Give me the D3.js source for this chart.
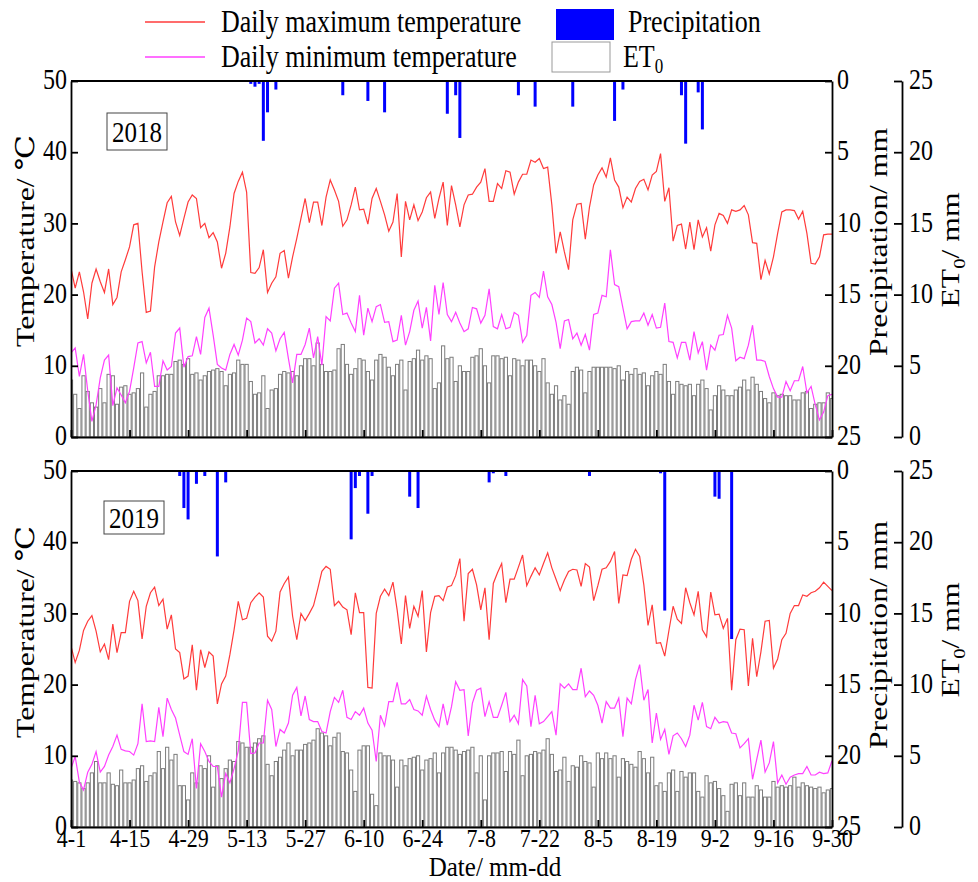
<!DOCTYPE html>
<html><head><meta charset="utf-8">
<script src="https://cdn.jsdelivr.net/npm/d3@7"></script>
<style>body{margin:0;background:#fff}</style>
</head><body>
<svg id="c" width="978" height="882"></svg>
<script>
// ---------- DATA ----------
const tickDays = [0,14,28,42,56,70,84,98,112,126,140,154,168,182];
const tickLabels = ["4-1","4-15","4-29","5-13","5-27","6-10","6-24","7-8","7-22","8-5","8-19","9-2","9-16","9-30"];

const tmax2018 = [23.7,20.9,23.2,20.4,16.6,21.6,23.6,21.8,20.3,23.6, 18.6,19.6,23.2,24.9,26.7,29.8,30.0,23.2,17.5,17.7,
 23.9,27.4,30.2,32.9,33.8,30.2,28.3,30.7,33.0,34.0, 33.5,29.4,30.0,28.0,28.7,27.4,23.7,25.8,29.5,34.2,
 35.9,37.2,34.4,23.1,23.0,23.8,26.3,20.3,21.6,22.5, 25.8,26.2,22.3,25.3,27.9,30.7,33.5,30.1,33.0,33.0,
 29.7,33.7,36.1,34.7,33.1,29.6,30.5,32.6,35.1,31.9, 32.0,29.9,33.5,34.9,33.1,31.2,28.9,30.2,34.2,25.3,
 33.1,30.5,32.6,30.4,31.6,33.6,34.4,30.7,33.5,35.8, 29.7,35.3,32.6,29.5,32.6,34.0,34.1,35.1,35.8,37.7,
 33.1,33.1,35.6,34.9,37.4,37.2,34.1,35.8,36.9,36.9, 38.9,38.6,39.1,37.7,37.9,32.6,25.8,28.8,26.0,23.5,
 30.5,32.7,32.8,27.8,32.3,35.4,36.8,37.8,36.5,39.2, 36.1,35.1,32.2,33.7,33.0,34.9,35.9,36.2,34.7,36.8,
 37.3,39.8,33.1,35.0,27.5,29.7,29.9,26.4,30.2,26.3, 30.5,28.1,29.4,26.1,29.8,31.4,31.1,30.0,31.9,31.7,
 31.9,32.5,31.2,27.3,27.2,22.1,24.8,22.9,25.3,28.6, 31.6,31.9,31.9,31.8,30.6,31.7,28.6,24.4,24.3,25.3,
 28.4,28.5,28.5];
const tmin2018 = [11.8,12.5,8.5,11.6,6.5,2.2,4.5,8.3,10.8,11.5, 4.4,6.9,5.9,4.8,6.4,9.7,13.2,13.4,10.4,11.9,
 7.1,7.1,10.7,9.4,9.9,14.6,15.3,9.8,11.3,11.4, 14.1,11.6,16.8,18.1,14.3,10.2,9.7,9.4,11.6,13.0,
 11.5,13.6,16.7,16.2,13.2,13.8,12.9,15.2,14.6,12.1, 13.8,14.7,11.0,7.6,11.6,11.6,13.0,15.3,11.1,14.1,
 10.1,16.9,16.3,20.9,21.6,17.2,17.4,16.0,14.8,19.9, 14.3,18.1,16.2,18.3,18.6,16.1,16.2,13.4,13.6,17.1,
 12.9,14.8,17.8,19.1,15.3,18.2,13.5,21.3,17.2,21.7, 17.2,16.2,17.5,16.0,14.8,15.2,18.2,18.0,16.0,17.1,
 20.8,15.5,15.2,17.2,15.2,15.4,17.5,17.1,13.3,14.3, 19.9,20.3,19.6,23.3,19.7,18.6,16.1,12.4,16.3,16.5,
 13.8,14.6,12.9,14.4,12.2,17.2,17.4,19.9,19.7,26.3, 21.4,21.1,18.1,15.2,16.2,16.3,16.3,17.4,15.7,17.2,
 15.3,15.4,18.8,13.4,13.3,11.1,13.3,13.3,10.8,14.8, 11.8,13.4,9.4,12.9,12.2,14.3,14.4,17.1,15.3,10.7,
 11.2,11.0,12.9,15.7,10.8,10.8,10.6,8.5,6.8,5.6, 5.6,7.8,6.5,7.9,7.9,9.9,6.2,7.1,4.5,2.4,
 3.5,5.8,6.0];
const et02018 = [4.0,3.0,2.0,4.3,3.2,2.4,2.1,3.4,2.4,4.4, 4.3,2.3,3.5,3.6,3.0,3.1,3.4,4.5,2.1,3.0,
 3.2,4.3,4.3,4.4,4.4,5.3,5.4,5.1,5.5,4.4, 4.5,4.0,4.3,4.6,4.7,4.8,4.6,3.6,4.4,4.5,
 5.4,5.1,5.1,3.9,3.0,3.1,4.3,2.0,3.3,3.4, 4.4,4.6,4.5,4.6,4.3,5.0,5.5,
 5.5,5.0,6.6,5.1,4.6,4.6,4.7,6.2,6.5,5.1, 4.4,4.8,5.5,5.4,4.6,4.0,5.4,5.8,5.6,4.9,
 4.3,5.1,5.4,3.3,5.3,5.5,6.1,5.4,5.7,5.5, 3.4,3.8,6.4,5.5,5.6,3.9,5.0,4.6,4.6,5.6,
 5.7,6.2,5.0,3.8,5.7,5.7,5.5,5.6,4.3,5.5, 5.4,5.0,5.4,5.4,5.0,4.6,5.5,3.8,3.0,3.6,
 2.6,2.9,2.3,
 4.6,4.9,4.7,3.1,4.6,4.9,4.9,4.9,4.9,4.9, 4.8,5.0,4.0,4.6,4.4,4.8,4.4,4.5,3.6,4.3,
 4.6,4.4,5.1,3.9,3.0,3.9,3.7,3.6,3.7,2.9, 3.7,4.0,3.4,1.9,2.9,3.6,3.3,2.9,2.9,3.3,
 3.5,4.0,3.3,4.2,3.7,3.2,2.7,2.4,3.1,2.9, 3.0,2.9,2.9,2.6,2.6,3.1,3.2,2.0,2.3,2.4,
 2.4,3.1,2.7];
const rainDay2018 = [43,44,45,46,47,49,65,71,75,90,92,93,107,111,120,130,132,146,147,150,151];
const rain2018 = [0.2,0.4,0.2,4.2,2.2,0.6,1.0,1.4,2.2,2.3,1.0,4.0,1.0,1.8,1.8,2.8,0.6,1.0,4.4,0.8,3.4];

const tmax2019 = [25.4,23.1,24.8,27.6,28.9,29.7,27.5,24.6,25.7,23.5, 28.5,24.5,27.3,27.3,31.7,33.1,31.8,26.4,31.0,32.9,
 33.7,31.1,32.0,27.8,29.8,25.0,24.5,20.8,21.2,25.6, 19.2,24.9,22.4,24.6,24.0,17.3,20.1,21.2,24.2,27.7,
 31.7,29.1,29.3,31.5,32.3,32.9,32.3,26.8,26.1,27.5, 33.0,34.2,35.1,29.6,26.3,30.0,29.0,30.0,31.1,33.4,
 35.9,36.6,36.2,31.1,31.7,30.9,30.5,27.0,32.9,30.1, 30.1,19.6,19.5,30.0,32.4,33.4,32.5,34.4,30.5,25.7,
 32.5,27.9,31.0,29.6,33.2,24.6,30.1,32.4,32.5,31.8, 33.7,33.9,35.3,37.7,28.9,35.6,36.2,34.0,30.5,33.6,
 26.3,34.2,35.7,37.0,31.5,34.8,34.8,36.5,38.2,33.9, 35.2,36.4,35.4,37.0,38.5,36.4,34.8,33.2,34.7,35.9,
 36.2,36.1,33.8,37.0,36.5,31.8,33.9,36.2,36.4,37.3, 38.7,31.4,35.4,35.3,37.6,39.0,38.0,34.0,28.3,31.2,
 25.8,25.9,24.0,27.6,31.0,29.2,28.6,33.6,31.5,29.8, 33.1,27.7,26.7,33.0,29.8,29.9,27.9,29.3,19.2,26.3,
 27.8,27.7,19.8,26.5,21.1,24.6,28.9,29.0,22.3,23.6, 26.3,27.2,30.0,31.1,31.1,32.6,32.4,32.9,33.1,33.6,
 34.4,33.8,33.2];
const tmin2019 = [8.2,9.9,6.3,5.2,7.7,8.8,10.6,7.7,8.5,10.1, 11.3,12.9,10.9,10.7,10.6,10.1,11.7,17.3,12.0,12.1,
 12.0,16.8,12.7,18.1,16.5,15.3,12.9,10.6,10.2,12.4, 5.4,11.7,10.6,9.2,8.5,8.5,4.2,7.5,6.2,8.2,
 10.7,17.5,17.5,10.3,10.4,11.8,11.8,17.8,16.5,11.3, 13.7,13.2,14.6,18.5,19.6,15.6,18.4,15.1,14.8,14.8,
 13.4,13.2,16.2,18.2,17.5,19.2,15.4,15.1,16.2,15.7, 16.7,14.6,13.6,9.2,15.7,14.2,17.6,17.6,20.3,17.3,
 17.3,17.9,16.5,16.3,15.7,18.4,16.5,15.0,14.1,17.3, 14.3,16.9,20.4,19.2,19.3,12.8,17.4,19.2,19.5,15.5,
 17.6,15.4,15.4,17.1,18.9,14.8,15.7,14.5,20.7,19.8, 14.1,18.5,14.5,14.8,15.5,16.2,12.9,20.1,19.5,20.1,
 19.3,19.3,22.3,18.3,19.1,18.5,17.1,14.6,17.6,16.7, 16.7,18.1,12.7,18.1,17.3,20.7,22.8,17.8,19.3,11.8,
 16.0,12.3,13.7,10.2,12.8,13.2,12.4,11.3,12.9,17.1, 15.0,17.5,14.1,13.8,15.4,14.6,14.8,14.7,13.2,13.1,
 11.1,11.7,12.4,6.7,9.5,12.2,7.7,9.0,12.0,6.2, 7.3,6.0,7.0,7.3,7.5,7.5,8.5,7.3,7.3,7.7,
 7.5,7.6,9.3];
const et02019 = [3.3,3.2,3.1,2.7,3.1,3.8,4.6,3.1,3.1,3.8, 3.0,2.9,4.0,3.1,3.1,3.3,4.1,4.3,3.2,3.6,
 3.8,5.3,4.1,5.6,4.7,5.1,2.9,2.9,1.9,3.8, 3.1,4.3,4.1,5.0,2.8,4.3,3.4,4.1,4.7,4.6,
 6.0,5.9,5.6,5.6,5.9,6.2,6.4,4.4,3.6,4.6, 4.9,5.4,5.9,5.0,5.4,5.4,5.8,
 5.9,6.1,6.9,6.6,6.4,5.7,6.3,6.6,5.3,5.2, 4.0,2.5,5.4,5.7,5.7,2.3,1.5,5.2,5.0,5.0,
 4.7,2.8,4.7,4.3,4.8,4.9,5.0,4.0,4.7,4.8, 5.2,3.8,5.2,5.6,5.6,5.4,5.1,5.3,5.4,5.6,
 3.8,5.0,1.9,5.0,5.2,5.2,5.3,3.9,5.3,5.1, 6.1,3.6,5.0,5.1,5.3,5.2,5.4,6.2,5.1,3.9,
 4.0,4.9,3.2,
 4.3,4.2,5.0,4.6,4.5,2.8,5.2,4.8,5.2,4.8, 5.0,3.5,4.8,4.6,4.4,4.2,5.3,4.8,3.8,4.9,
 2.9,3.1,2.5,3.8,4.0,2.5,3.9,3.5,3.8,3.8, 2.5,2.1,3.6,3.1,3.2,2.7,2.2,1.1,3.0,3.1,
 2.2,3.1,2.1,2.1,2.9,2.6,2.1,2.1,3.2,2.8, 2.9,2.8,2.9,3.5,2.8,3.1,2.9,2.8,2.7,2.8,
 2.4,2.6,2.7];
const rainDay2019 = [26,27,28,30,32,35,37,67,68,69,71,72,81,83,100,101,104,124,141,142,154,155,158];
const rain2019 = [0.35,2.6,3.4,0.9,0.35,6.0,0.8,4.8,1.2,0.35,3.0,0.35,1.8,2.6,0.8,0.16,0.35,0.35,0.16,9.8,1.8,1.95,11.8];

// ---------- DRAW ----------
const FONT = '"Liberation Serif","Times New Roman","DejaVu Serif","Noto Sans CJK SC",serif';
const RED = "#ff3b3b", MAG = "#ff40ff", BLUE = "#0000ff", GRAY = "#7c7c7c";
const SY = 1.2;   // the reference text is drawn slightly tall
const svg = d3.select("#c").style("font-family", FONT);
const x = d3.scaleLinear().domain([0,182]).range([71,832]);

const panels = [
 {year:"2018", top:81, bottom:437, tmax:tmax2018, tmin:tmin2018, et0:et02018, rd:rainDay2018, rv:rain2018, labels:false,
  box:[107,113,60,37], tc:[241,242,250]},
 {year:"2019", top:471, bottom:827, tmax:tmax2019, tmin:tmin2019, et0:et02019, rd:rainDay2019, rv:rain2019, labels:true,
  box:[104,501,60,33], tc:[632,635,640]}
];

function styleAxis(g, fs, sy, dy){
  g.attr("font-family", FONT).attr("font-size", fs);
  g.selectAll("path.domain").attr("stroke","#000").attr("stroke-width",1.8);
  g.selectAll(".tick line").attr("stroke","#000").attr("stroke-width",1.8);
  const t = g.selectAll(".tick text").attr("fill","#000").attr("transform", `scale(1,${sy})`);
  if (dy) t.attr("dy", dy);
}
function htext(parent, x0, y0, fs, anchor, sy){
  return parent.append("text").attr("transform", `translate(${x0},${y0}) scale(1,${sy || SY})`)
    .attr("font-size", fs).attr("text-anchor", anchor || "start");
}

panels.forEach((p, k) => {
  const g = svg.append("g");
  const yT = d3.scaleLinear().domain([0,50]).range([p.bottom, p.top]);
  const yE = d3.scaleLinear().domain([0,25]).range([p.bottom, p.top]);
  const yP = d3.scaleLinear().domain([0,25]).range([p.top, p.bottom]);
  const cid = "clip" + k;
  g.append("clipPath").attr("id", cid).append("rect")
    .attr("x", x(0)).attr("y", p.top).attr("width", x(182)-x(0)).attr("height", p.bottom-p.top);

  const plot = g.append("g").attr("clip-path", `url(#${cid})`);
  plot.append("g").selectAll("rect").data(p.et0).join("rect")
    .attr("x", (d,i) => x(i) - 1.6).attr("width", 3.2)
    .attr("y", d => yE(d)).attr("height", d => yE(0) - yE(d))
    .attr("fill", "#fff").attr("stroke", GRAY).attr("stroke-width", 1);
  const line = d3.line().x((d,i) => x(i)).y(d => yT(d));
  plot.append("path").datum(p.tmax).attr("d", line).attr("fill","none").attr("stroke",RED).attr("stroke-width",1.2);
  plot.append("path").datum(p.tmin).attr("d", line).attr("fill","none").attr("stroke",MAG).attr("stroke-width",1.2);
  plot.append("g").selectAll("rect").data(p.rv).join("rect")
    .attr("x", (d,i) => x(p.rd[i]) - 1.5).attr("width", 3)
    .attr("y", yP(0)).attr("height", d => yP(d) - yP(0))
    .attr("fill", BLUE);

  g.append("line").attr("x1", x(0)).attr("x2", x(182)).attr("y1", p.top).attr("y2", p.top)
    .attr("stroke","#000").attr("stroke-width",1.8);

  const ga = g.append("g").attr("transform", `translate(${x(0)},0)`)
    .call(d3.axisLeft(yT).tickValues([0,10,20,30,40,50]).tickSizeInner(-7).tickSizeOuter(0).tickPadding(4));
  styleAxis(ga, 24, SY, "0.27em");
  const gb = g.append("g").attr("transform", `translate(0,${p.bottom})`)
    .call(d3.axisBottom(x).tickValues(tickDays).tickSizeInner(-7).tickSizeOuter(0).tickPadding(1.8)
      .tickFormat((d,i) => p.labels ? tickLabels[i] : ""));
  styleAxis(gb, 22, 1.15);
  const gp = g.append("g").attr("transform", `translate(${x(182)},0)`)
    .call(d3.axisRight(yP).tickValues([0,5,10,15,20,25]).tickSizeInner(-7).tickSizeOuter(0).tickPadding(5));
  styleAxis(gp, 24, SY, "0.27em");
  const ge = g.append("g").attr("transform", `translate(902,0)`)
    .call(d3.axisRight(yE).tickValues([0,5,10,15,20,25]).tickSizeInner(-8).tickSizeOuter(0).tickPadding(7));
  styleAxis(ge, 24, SY, "0.27em");

  g.append("text").attr("transform", `translate(34,${p.tc[0]}) rotate(-90) scale(1.22,1)`).attr("text-anchor","middle")
    .attr("font-size", 26).text("Temperature/ ℃");
  g.append("text").attr("transform", `translate(887,${p.tc[1]}) rotate(-90) scale(1.22,1)`).attr("text-anchor","middle")
    .attr("font-size", 26).text("Precipitation/ mm");
  const et = g.append("text").attr("transform", `translate(959,${p.tc[2]}) rotate(-90) scale(1.22,1)`).attr("text-anchor","middle")
    .attr("font-size", 26);
  et.append("tspan").text("ET");
  et.append("tspan").attr("font-size", 17).attr("dy", 6).text("0");
  et.append("tspan").attr("dy", -6).text("/ mm");

  const b = p.box;
  g.append("rect").attr("x", b[0]).attr("y", b[1]).attr("width", b[2]).attr("height", b[3])
    .attr("fill","#fff").attr("stroke","#444").attr("stroke-width",1);
  htext(g, b[0] + b[2]/2, b[1] + b[3]/2 + 10, 25, "middle").text(p.year);
});

htext(svg, 495, 876, 25, "middle", 1.05).text("Date/ mm-dd");

// legend
const lg = svg.append("g");
lg.append("line").attr("x1",145).attr("x2",205).attr("y1",22).attr("y2",22).attr("stroke",RED).attr("stroke-width",1.4);
htext(lg, 221, 32, 26).text("Daily maximum temperature");
lg.append("line").attr("x1",145).attr("x2",205).attr("y1",57).attr("y2",57).attr("stroke",MAG).attr("stroke-width",1.4);
htext(lg, 221, 67, 26).text("Daily minimum temperature");
lg.append("rect").attr("x",556).attr("y",9).attr("width",58).attr("height",31).attr("fill",BLUE);
htext(lg, 628, 32, 26).text("Precipitation");
lg.append("rect").attr("x",552).attr("y",42).attr("width",58).attr("height",30).attr("fill","#fff").attr("stroke","#999").attr("stroke-width",1);
const le = htext(lg, 623, 67, 26);
le.append("tspan").text("ET");
le.append("tspan").attr("font-size",17).attr("dy",5).text("0");
</script>
</body></html>
